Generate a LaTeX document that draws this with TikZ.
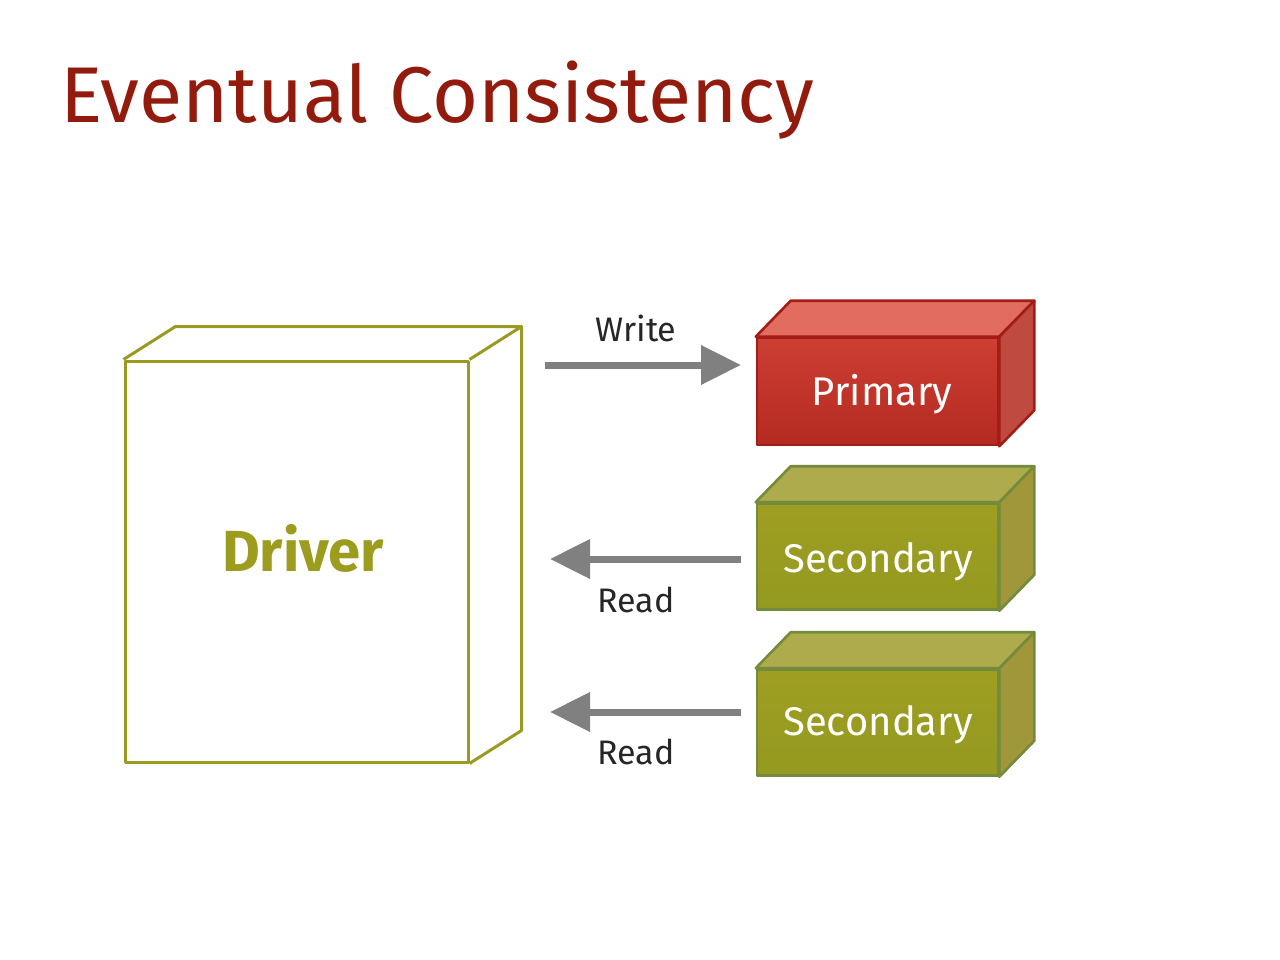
\documentclass[tikz,border=0pt]{standalone}
\usepackage{fontspec}
\setmainfont{Fira Sans}
\usetikzlibrary{calc,arrows.meta}
\definecolor{titlered}{HTML}{921B0E}
\definecolor{olive}{HTML}{9C9C1E}
\definecolor{oliveline}{HTML}{9A9A22}
\definecolor{secfront}{HTML}{9E9E22}
\definecolor{secfrontb}{HTML}{949A20}
\definecolor{sectop}{HTML}{AEAB4C}
\definecolor{secside}{HTML}{A0973A}
\definecolor{secborder}{HTML}{748A3C}
\definecolor{prifront}{HTML}{CD3E33}
\definecolor{prifrontb}{HTML}{B42A21}
\definecolor{pritop}{HTML}{E16C5F}
\definecolor{priside}{HTML}{BE4A40}
\definecolor{priborder}{HTML}{A31C15}
\definecolor{arrowgray}{HTML}{808080}
\definecolor{labelgray}{HTML}{262626}
\tikzset{
  frontface/.style={rectangle, inner sep=0pt, line width=2.6pt, line join=round},
  pribox/.style={frontface, draw=priborder, top color=prifront, bottom color=prifrontb,
    minimum width=241pt, minimum height=107pt},
  secbox/.style={frontface, draw=secborder, top color=secfront, bottom color=secfrontb,
    minimum width=241pt, minimum height=106pt},
  boxtext/.style={text=white, font=\fontsize{40}{40}\selectfont, inner sep=0pt},
  drvbox/.style={frontface, draw=oliveline, line width=3pt, fill=white,
    minimum width=343pt, minimum height=401pt},
  drvtext/.style={text=olive, font=\fontsize{58}{58}\selectfont\bfseries, inner sep=0pt},
  face/.style={line width=2.6pt, line join=round},
  flow/.style={draw=arrowgray, line width=7pt, -{Triangle[length=40pt,width=38pt]}},
  lbl/.style={text=labelgray, font=\fontsize{34}{34}\selectfont, inner sep=0pt},
}
\begin{document}
\begin{tikzpicture}[x=1pt,y=-1pt]
\useasboundingbox[fill=white] (0,0) rectangle (1280,960);
% title
\node[anchor=base west, inner sep=0pt, text=titlered, font=\fontsize{79}{79}\selectfont] (title) at (60,123) {Eventual Consistency};

% driver
\node[drvbox] (drv) at (296.5,561.5) {};
\draw[oliveline, line width=3pt, line join=round]
  (drv.north west) -- ($(drv.north west)+(52,-33)$) -- ($(drv.north east)+(52,-33)$) -- ($(drv.south east)+(52,-33)$) -- (drv.south east)
  (drv.north east) -- ($(drv.north east)+(52,-33)$);
\node[drvtext] (drvlabel) at (303,548) {Driver};

% primary
\node[pribox] (pri) at (877.5,391.5) {};
\draw[face, draw=priborder, fill=pritop]
  (pri.north west) -- ($(pri.north west)+(35,-36)$) -- ($(pri.north east)+(35,-36)$) -- (pri.north east) -- cycle;
\draw[face, draw=priborder, fill=priside]
  (pri.north east) -- ($(pri.north east)+(35,-36)$) -- ($(pri.south east)+(35,-36)$) -- (pri.south east) -- cycle;
\node[boxtext, anchor=base] (pritext) at (882,405) {Primary};

% secondaries
\node[secbox] (sec1) at (877.5,556.5) {};
\node[secbox] (sec2) at (877.5,722.5) {};
\foreach \s in {sec1,sec2}{
  \draw[face, draw=secborder, fill=sectop]
    (\s.north west) -- ($(\s.north west)+(35,-36)$) -- ($(\s.north east)+(35,-36)$) -- (\s.north east) -- cycle;
  \draw[face, draw=secborder, fill=secside]
    (\s.north east) -- ($(\s.north east)+(35,-36)$) -- ($(\s.south east)+(35,-36)$) -- (\s.south east) -- cycle;
}
\node[boxtext, anchor=base] (sec1text) at (878,572) {Secondary};
\node[boxtext, anchor=base] (sec2text) at (878,735) {Secondary};

% arrows
\coordinate (w1) at (545,365);
\coordinate (w2) at (741,365);
\coordinate (r1a) at (741,559);
\coordinate (r1b) at (550,559);
\coordinate (r2a) at (741,712);
\coordinate (r2b) at (550,712);
\draw[flow] (w1) -- (w2);
\draw[flow] (r1a) -- (r1b);
\draw[flow] (r2a) -- (r2b);

\node[lbl, anchor=base] (wl) at (636,341) {Write};
\node[lbl, anchor=base] (rl1) at (636,612) {Read};
\node[lbl, anchor=base] (rl2) at (636,764) {Read};
\end{tikzpicture}
\end{document}
